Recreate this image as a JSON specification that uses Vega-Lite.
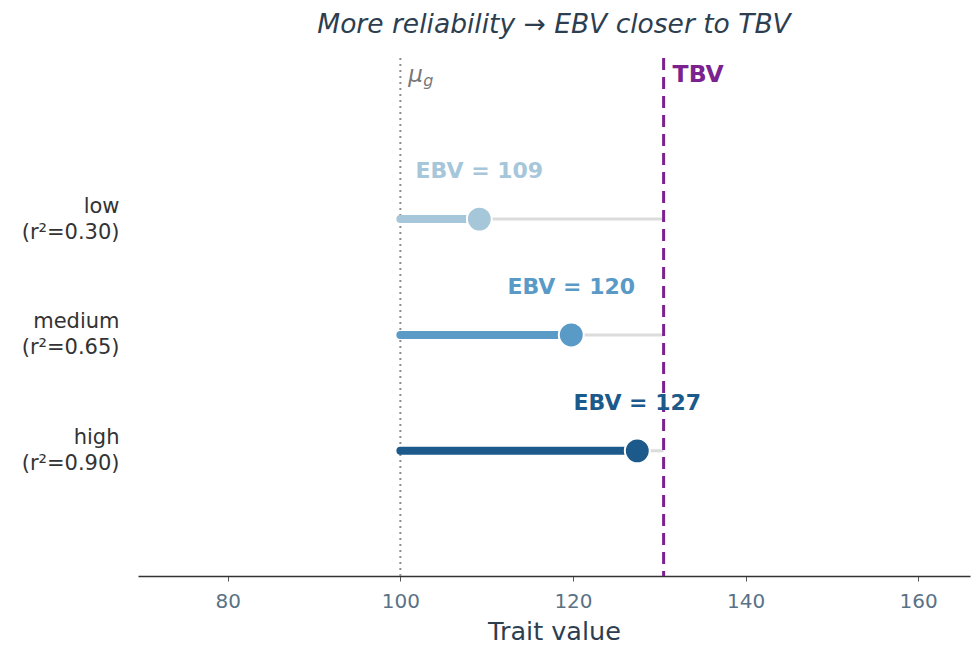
{
  "$schema": "https://vega.github.io/schema/vega-lite/v6.json",
  "width": 832,
  "height": 518,
  "autosize": "none",
  "padding": {"left": 138, "top": 58, "right": 7, "bottom": 72},
  "background": "white",
  "config": {
    "font": "DejaVu Sans",
    "view": {"stroke": null},
    "axis": {"grid": false}
  },
  "title": {
    "text": "More reliability → EBV closer to TBV",
    "fontStyle": "italic",
    "fontWeight": "normal",
    "fontSize": 26.5,
    "color": "#2c3e50",
    "offset": 18,
    "anchor": "middle"
  },
  "datasets": {
    "rows": [
      {"level": "low", "r2": "0.30", "pos": 2, "mu": 100, "ebv": 109.15, "tbv": 130.5, "label": "EBV = 109"},
      {"level": "medium", "r2": "0.65", "pos": 1, "mu": 100, "ebv": 119.8, "tbv": 130.5, "label": "EBV = 120"},
      {"level": "high", "r2": "0.90", "pos": 0, "mu": 100, "ebv": 127.45, "tbv": 130.5, "label": "EBV = 127"}
    ],
    "refs": [
      {"name": "mu", "v": 100},
      {"name": "tbv", "v": 130.5}
    ],
    "notes": [
      {"kind": "mu", "v": 100, "pos": 3.24, "text": "μ"},
      {"kind": "g", "v": 100, "pos": 3.24, "text": "g"},
      {"kind": "tbv", "v": 130.5, "pos": 3.24, "text": "TBV"}
    ]
  },
  "layer": [
    {
      "data": {"name": "rows"},
      "mark": {"type": "rule", "color": "#dcdcdc", "strokeWidth": 3},
      "encoding": {
        "x": {"field": "mu", "type": "quantitative",
          "scale": {"domain": [69.6, 166], "nice": false, "zero": false},
          "axis": {"values": [80, 100, 120, 140, 160], "title": "Trait value", "titleFontSize": 25.5, "titleFontWeight": "normal", "titleColor": "#2c3e50", "titlePadding": 8,
            "labelFontSize": 20, "labelColor": "#5a7286", "labelPadding": 10, "domainColor": "#333333", "domainWidth": 1.6, "tickColor": "#555555", "tickSize": 5, "tickWidth": 1}},
        "x2": {"field": "tbv"},
        "y": {"field": "pos", "type": "quantitative",
          "scale": {"domain": [-1.08, 3.39], "nice": false, "zero": false},
          "axis": {"values": [0, 1, 2], "title": null, "domain": false, "ticks": false, "labelFontSize": 21, "labelColor": "#333333", "labelPadding": 19, "labelAlign": "right", "labelBaseline": "middle", "labelLineHeight": 26, "labelOffset": -13,
            "labelExpr": "datum.value == 2 ? ['low', '(r²=0.30)'] : datum.value == 1 ? ['medium', '(r²=0.65)'] : ['high', '(r²=0.90)']"}}
      }
    },
    {
      "data": {"name": "refs"},
      "transform": [{"filter": "datum.name == 'mu'"}],
      "mark": {"type": "rule", "color": "#8c8c8c", "strokeWidth": 2, "strokeDash": [2, 4]},
      "encoding": {"x": {"field": "v", "type": "quantitative"}}
    },
    {
      "data": {"name": "rows"},
      "mark": {"type": "rule", "strokeWidth": 8, "strokeCap": "round"},
      "encoding": {
        "x": {"field": "mu", "type": "quantitative"},
        "x2": {"field": "ebv"},
        "y": {"field": "pos", "type": "quantitative"},
        "color": {"field": "level", "type": "nominal", "legend": null,
          "scale": {"domain": ["low", "medium", "high"], "range": ["#a6c6d9", "#5a9ac7", "#1d5a8c"]}}
      }
    },
    {
      "data": {"name": "refs"},
      "transform": [{"filter": "datum.name == 'tbv'"}],
      "mark": {"type": "rule", "color": "#7b2290", "strokeWidth": 3, "strokeDash": [12, 7]},
      "encoding": {"x": {"field": "v", "type": "quantitative"}}
    },
    {
      "data": {"name": "rows"},
      "mark": {"type": "point", "filled": true, "shape": "circle", "size": 620, "stroke": "white", "strokeWidth": 2, "opacity": 1},
      "encoding": {
        "x": {"field": "ebv", "type": "quantitative"},
        "y": {"field": "pos", "type": "quantitative"},
        "fill": {"field": "level", "type": "nominal", "legend": null,
          "scale": {"domain": ["low", "medium", "high"], "range": ["#a6c6d9", "#5a9ac7", "#1d5a8c"]}}
      }
    },
    {
      "data": {"name": "rows"},
      "mark": {"type": "text", "fontSize": 22, "fontWeight": "bold", "align": "center", "baseline": "middle", "dy": -48},
      "encoding": {
        "x": {"field": "ebv", "type": "quantitative"},
        "y": {"field": "pos", "type": "quantitative"},
        "text": {"field": "label"},
        "color": {"field": "level", "type": "nominal", "legend": null,
          "scale": {"domain": ["low", "medium", "high"], "range": ["#a6c6d9", "#5a9ac7", "#1d5a8c"]}}
      }
    },
    {
      "data": {"name": "notes"},
      "transform": [{"filter": "datum.kind == 'mu'"}],
      "mark": {"type": "text", "fontSize": 23, "fontStyle": "italic", "color": "#777777", "align": "left", "baseline": "middle", "dx": 8},
      "encoding": {
        "x": {"field": "v", "type": "quantitative"},
        "y": {"field": "pos", "type": "quantitative"},
        "text": {"field": "text"}
      }
    },
    {
      "data": {"name": "notes"},
      "transform": [{"filter": "datum.kind == 'g'"}],
      "mark": {"type": "text", "fontSize": 16, "fontStyle": "italic", "color": "#777777", "align": "left", "baseline": "middle", "dx": 23, "dy": 6},
      "encoding": {
        "x": {"field": "v", "type": "quantitative"},
        "y": {"field": "pos", "type": "quantitative"},
        "text": {"field": "text"}
      }
    },
    {
      "data": {"name": "notes"},
      "transform": [{"filter": "datum.kind == 'tbv'"}],
      "mark": {"type": "text", "fontSize": 23.5, "fontWeight": "bold", "color": "#7b2290", "align": "left", "baseline": "middle", "dx": 9},
      "encoding": {
        "x": {"field": "v", "type": "quantitative"},
        "y": {"field": "pos", "type": "quantitative"},
        "text": {"field": "text"}
      }
    }
  ]
}
